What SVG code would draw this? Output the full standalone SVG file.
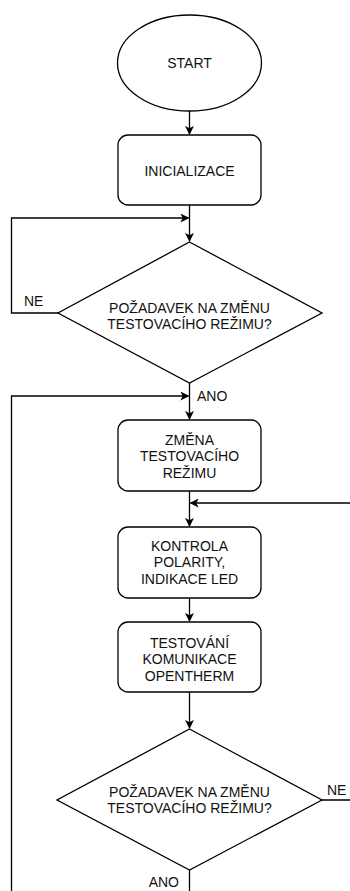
<svg xmlns="http://www.w3.org/2000/svg" width="350" height="891" viewBox="0 0 350 891">
<style>
.shape{fill:#fff;stroke:#000;stroke-width:1.3}
.t{font-family:"Liberation Sans",Arial,sans-serif;font-size:14px;fill:#111;text-anchor:middle}
.lbl{font-family:"Liberation Sans",Arial,sans-serif;font-size:14px;fill:#111}
.c{fill:none;stroke:#000;stroke-width:1.3}
</style>
<defs>
<marker id="arr" viewBox="0 0 10 10" refX="9" refY="5" markerWidth="9" markerHeight="9" markerUnits="userSpaceOnUse" orient="auto">
<path d="M0,0 L10,5 L0,10 L2.5,5 Z" fill="#000"/>
</marker>
</defs>
<rect width="350" height="891" fill="#fff"/>
<g id="connectors">
<path class="c" d="M189.5,111 V134" marker-end="url(#arr)"/>
<path class="c" d="M189.5,205 V241" marker-end="url(#arr)"/>
<path class="c" d="M58,313 H11.5 V218 H188.5" marker-end="url(#arr)"/>
<path class="c" d="M189.5,383 V419" marker-end="url(#arr)"/>
<path class="c" d="M189.5,870 V905 H11.5 V396 H188.5" marker-end="url(#arr)"/>
<path class="c" d="M189.5,491 V526" marker-end="url(#arr)"/>
<path class="c" d="M322,800 H362 V503 H190.5" marker-end="url(#arr)"/>
<path class="c" d="M189.5,598 V621" marker-end="url(#arr)"/>
<path class="c" d="M189.5,692 V728" marker-end="url(#arr)"/>
<text class="lbl" x="24" y="305.5">NE</text>
<text class="lbl" x="197" y="400.5">ANO</text>
<text class="lbl" x="327" y="795">NE</text>
<text class="lbl" x="179" y="887" text-anchor="end">ANO</text>
</g>
<g id="start">
<ellipse class="shape" cx="189.5" cy="63" rx="72" ry="48"/>
<text class="t" x="189.5" y="68">START</text>
</g>
<g id="inicializace">
<rect class="shape" x="118" y="135" width="143" height="70" rx="10"/>
<text class="t" x="189.5" y="175.5">INICIALIZACE</text>
</g>
<g id="decision1">
<polygon class="shape" points="189.5,242 322,313 189.5,383 58,313"/>
<text class="t" x="189.5" y="313">POŽADAVEK NA ZMĚNU</text>
<text class="t" x="189.5" y="328.5">TESTOVACÍHO REŽIMU?</text>
</g>
<g id="zmena">
<rect class="shape" x="118" y="420" width="143" height="71" rx="10"/>
<text class="t" x="189.5" y="444.5">ZMĚNA</text>
<text class="t" x="189.5" y="461">TESTOVACÍHO</text>
<text class="t" x="189.5" y="477.5">REŽIMU</text>
</g>
<g id="kontrola">
<rect class="shape" x="118" y="527" width="143" height="71" rx="10"/>
<text class="t" x="189.5" y="550.5">KONTROLA</text>
<text class="t" x="189.5" y="567">POLARITY,</text>
<text class="t" x="189.5" y="583.5">INDIKACE LED</text>
</g>
<g id="testovani">
<rect class="shape" x="118" y="622" width="143" height="70" rx="10"/>
<text class="t" x="189.5" y="647.5">TESTOVÁNÍ</text>
<text class="t" x="189.5" y="664">KOMUNIKACE</text>
<text class="t" x="189.5" y="680.5">OPENTHERM</text>
</g>
<g id="decision2">
<polygon class="shape" points="189.5,729 322,800 189.5,870 57,800"/>
<text class="t" x="189.5" y="797">POŽADAVEK NA ZMĚNU</text>
<text class="t" x="189.5" y="813">TESTOVACÍHO REŽIMU?</text>
</g>
</svg>
